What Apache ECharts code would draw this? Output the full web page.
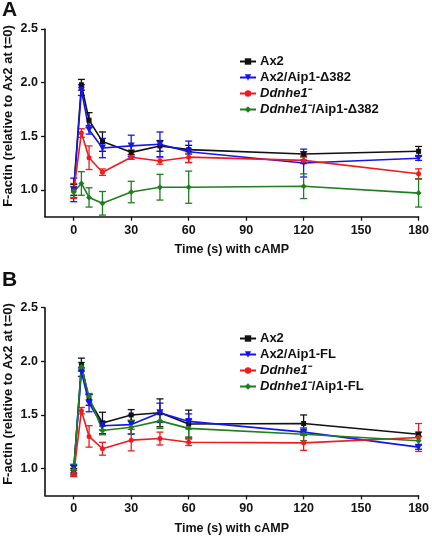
<!DOCTYPE html>
<html><head><meta charset="utf-8">
<script src="https://cdn.jsdelivr.net/npm/echarts@6/dist/echarts.min.js"></script>
<style>html,body{margin:0;padding:0;background:#fff}#c{width:432px;height:540px}</style>
</head><body><div id="c"></div>
<script>
// ---- data ----
var times = [0, 4, 8, 15, 30, 45, 60, 120, 180];
var xTicks = [0, 30, 60, 90, 120, 150, 180];
var yTicks = [1.0, 1.5, 2.0, 2.5];

// Panel A
var ax2A      = [1.00, 1.98, 1.65, 1.45, 1.35, 1.41, 1.375, 1.335, 1.36];
var ax2AErr   = [0.05, 0.05, 0.07, 0.09, 0.02, 0.05, 0.04, 0.02, 0.045];
var d382A     = [1.00, 1.93, 1.56, 1.39, 1.41, 1.425, 1.355, 1.25, 1.295];
var d382AErr  = [0.11, 0.05, 0.04, 0.09, 0.10, 0.115, 0.10, 0.13, 0.02];
var nheA      = [0.99, 1.53, 1.30, 1.165, 1.305, 1.27, 1.305, 1.275, 1.15];
var nheAErr   = [0.07, 0.04, 0.11, 0.03, 0.02, 0.03, 0.05, 0.03, 0.046];
var nhe382A   = [0.98, 1.06, 0.93, 0.875, 0.98, 1.025, 1.025, 1.034, 0.97];
var nhe382AErr= [0.05, 0.11, 0.09, 0.11, 0.10, 0.12, 0.15, 0.115, 0.13];

// Panel B
var ax2B      = [0.97, 1.97, 1.64, 1.425, 1.50, 1.52, 1.415, 1.42, 1.32];
var ax2BErr   = [0.03, 0.06, 0.05, 0.10, 0.05, 0.13, 0.13, 0.08, 0.02];
var flB       = [1.00, 1.90, 1.61, 1.40, 1.41, 1.52, 1.44, 1.34, 1.20];
var flBErr    = [0.04, 0.04, 0.08, 0.04, 0.09, 0.09, 0.07, 0.02, 0.02];
var nheB      = [0.955, 1.54, 1.30, 1.185, 1.265, 1.28, 1.245, 1.24, 1.29];
var nheBErr   = [0.03, 0.03, 0.10, 0.06, 0.10, 0.06, 0.03, 0.07, 0.13];
var nheFlB    = [0.99, 1.95, 1.67, 1.355, 1.385, 1.445, 1.375, 1.32, 1.26];
var nheFlBErr = [0.04, 0.04, 0.03, 0.04, 0.06, 0.07, 0.08, 0.06, 0.04];

var namesA = ['A|Ax2', 'A|Ax2/Aip1-Δ382', 'A|Ddnhe1', 'A|Ddnhe1/Aip1-Δ382'];
var namesB = ['B|Ax2', 'B|Ax2/Aip1-FL', 'B|Ddnhe1', 'B|Ddnhe1/Aip1-FL'];

// ---- styles ----
var FONT = "'Liberation Sans', Arial, sans-serif";
var colors = ['#111111', '#1515ee', '#ee1c1c', '#1f7f1f'];
var symbols = ['rect', 'triangle', 'circle', 'diamond'];
var symbolSizes = [5, 7, 5, 6];
var symbolRot = [0, 180, 0, 0];

function pairs(ys) { return times.map(function (t, i) { return [t, ys[i]]; }); }
function errData(ys, es) { return times.map(function (t, i) { return [t, ys[i], ys[i] - es[i], ys[i] + es[i]]; }); }

function lineSeries(name, ys, k, gi) {
  return {
    type: 'line', name: name, xAxisIndex: gi, yAxisIndex: gi, data: pairs(ys),
    symbol: symbols[k], symbolSize: symbolSizes[k], symbolRotate: symbolRot[k], showAllSymbol: true,
    lineStyle: { color: colors[k], width: 1.6 }, itemStyle: { color: colors[k] },
    z: 3, animation: false
  };
}
function errSeries(ys, es, k, gi) {
  return {
    type: 'custom', xAxisIndex: gi, yAxisIndex: gi, data: errData(ys, es),
    encode: { x: 0, y: [2, 3] }, z: 2, animation: false, silent: true,
    renderItem: function (params, api) {
      var x = api.value(0);
      var lo = api.coord([x, api.value(2)]);
      var hi = api.coord([x, api.value(3)]);
      var w = 3.5;
      var st = { stroke: colors[k], lineWidth: 1.3 };
      return { type: 'group', children: [
        { type: 'line', shape: { x1: lo[0], y1: lo[1], x2: hi[0], y2: hi[1] }, style: st },
        { type: 'line', shape: { x1: lo[0] - w, y1: lo[1], x2: lo[0] + w, y2: lo[1] }, style: st },
        { type: 'line', shape: { x1: hi[0] - w, y1: hi[1], x2: hi[0] + w, y2: hi[1] }, style: st }
      ]};
    }
  };
}

var series = [];
var dataA = [[ax2A, ax2AErr], [d382A, d382AErr], [nheA, nheAErr], [nhe382A, nhe382AErr]];
var dataB = [[ax2B, ax2BErr], [flB, flBErr], [nheB, nheBErr], [nheFlB, nheFlBErr]];
dataA.forEach(function (d, k) { series.push(errSeries(d[0], d[1], k, 0)); });
dataB.forEach(function (d, k) { series.push(errSeries(d[0], d[1], k, 1)); });
dataA.forEach(function (d, k) { series.push(lineSeries(namesA[k], d[0], k, 0)); });
dataB.forEach(function (d, k) { series.push(lineSeries(namesB[k], d[0], k, 1)); });

function xAx(gi, gap) {
  return {
    type: 'value', gridIndex: gi, min: -15, max: 180,
    name: 'Time (s) with cAMP', nameLocation: 'middle', nameGap: gap,
    nameTextStyle: { fontFamily: FONT, fontWeight: 'bold', fontSize: 12.5, color: '#111' },
    axisLine: { show: true, onZero: false, lineStyle: { color: '#111', width: 1.6 } },
    axisTick: { show: true, length: 4, inside: false, customValues: xTicks, lineStyle: { color: '#111', width: 1.3 } },
    axisLabel: { customValues: xTicks, margin: 7, fontFamily: FONT, fontWeight: 'bold', fontSize: 12.5, color: '#111' },
    splitLine: { show: false }
  };
}
function yAx(gi) {
  return {
    type: 'value', gridIndex: gi, min: 0.75, max: 2.5,
    axisLine: { show: true, onZero: false, lineStyle: { color: '#111', width: 1.6 } },
    axisTick: { show: true, length: 4, customValues: yTicks, lineStyle: { color: '#111', width: 1.3 } },
    axisLabel: { customValues: yTicks, margin: 7, fontFamily: FONT, fontWeight: 'bold', fontSize: 12.5, color: '#111',
      formatter: function (v) { return v.toFixed(1); } },
    splitLine: { show: false }
  };
}

var rich = {
  n: { fontFamily: FONT, fontWeight: 'bold', fontSize: 13, lineHeight: 12, color: '#111' },
  it: { fontFamily: FONT, fontWeight: 'bold', fontStyle: 'italic', fontSize: 13, lineHeight: 12, color: '#111' }
};
function legendFmt(name) {
  var s = name.slice(2);
  if (s.indexOf('Ddnhe1') === 0) {
    return '{it|Ddnhe1}{n|\u207B' + s.slice(6) + '}';
  }
  return '{n|' + s + '}';
}
function legend(names, top) {
  return {
    data: names, orient: 'vertical', left: 239, top: top, padding: 0,
    itemWidth: 16, itemHeight: 8, itemGap: 3, selectedMode: false,
    formatter: legendFmt,
    textStyle: { rich: rich, fontSize: 13, lineHeight: 12, padding: [0, 0, 0, -1] }
  };
}

var titleStyle = { text: 'F-actin (relative to Ax2 at t=0)', fontFamily: FONT, fontWeight: 'bold', fontSize: 13, fill: '#111', align: 'center', verticalAlign: 'middle' };

var chart = echarts.init(document.getElementById('c'), null, { renderer: 'canvas' });
chart.setOption({
  backgroundColor: '#fff',
  animation: false,
  grid: [
    { left: 45, top: 29, width: 376.7, height: 187.7 },
    { left: 45, top: 307.7, width: 376.7, height: 187.7 }
  ],
  xAxis: [xAx(0, 26), xAx(1, 27)],
  yAxis: [yAx(0), yAx(1)],
  legend: [legend(namesA, 55), legend(namesB, 332)],
  graphic: [
    { type: 'text', left: 2, top: 0, style: { text: 'A', fontFamily: FONT, fontWeight: 'bold', fontSize: 21, fill: '#111' } },
    { type: 'text', left: 2, top: 270, style: { text: 'B', fontFamily: FONT, fontWeight: 'bold', fontSize: 21, fill: '#111' } },
    { type: 'text', x: 8, y: 116, rotation: Math.PI / 2, style: titleStyle },
    { type: 'text', x: 8, y: 394, rotation: Math.PI / 2, style: titleStyle }
  ],
  series: series
});
</script>
</body></html>
